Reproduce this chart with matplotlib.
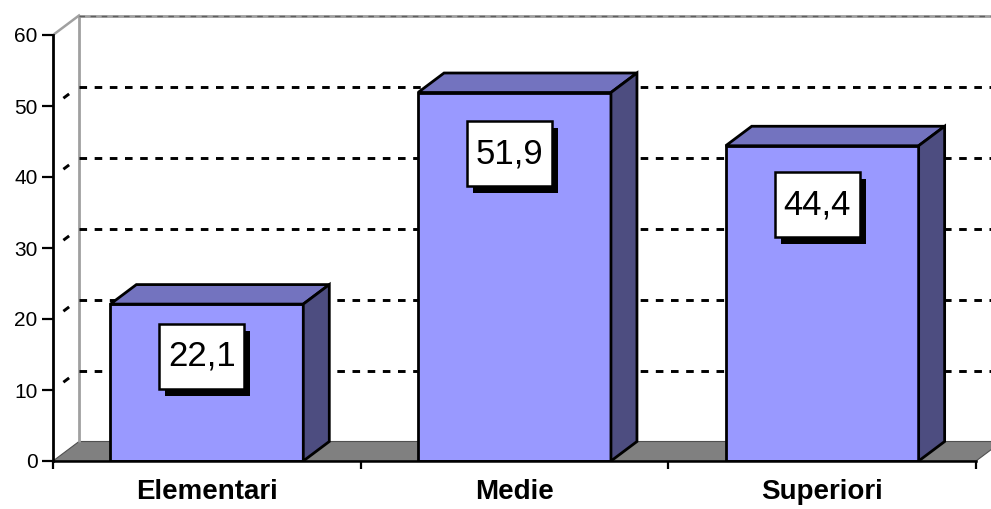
import matplotlib
matplotlib.use("Agg")
import matplotlib.pyplot as plt
from matplotlib.patches import Polygon, Rectangle
from matplotlib.transforms import Affine2D, ScaledTranslation

# Data
categories = ["Elementari", "Medie", "Superiori"]
values = [22.1, 51.9, 44.4]
value_labels = ["22,1", "51,9", "44,4"]
y_ticks = [0, 10, 20, 30, 40, 50, 60]

# Styling
FRONT = "#9999FF"
TOP = "#7373BF"
SIDE = "#4D4D80"
FLOOR = "#808080"
WALL = "#A0A0A0"
FONT = "Liberation Sans"

plt.rcParams["font.family"] = [FONT, "DejaVu Sans"]

fig = plt.figure(figsize=(9.91, 5.09), dpi=100)
W, H = 991, 509
ax = fig.add_axes([53 / W, 48 / H, (W - 53) / W, (H - 48) / H])

px_per_x = 307.67
px_per_y = 7.1
ax.set_xlim(0, (W - 53) / px_per_x)
ax.set_ylim(0, (H - 48) / px_per_y)

# oblique depth offset of the 3-D box (data units)
dx = 26 / px_per_x
dy = 19.5 / px_per_y
n = len(categories)
ymax = y_ticks[-1]

# floor
ax.add_patch(Polygon([(0, 0), (n, 0), (n + dx, dy), (dx, dy)], closed=True,
                     facecolor=FLOOR, edgecolor="#505050", lw=0.8, zorder=1))

# walls: left edge of back wall, its top edge, side wall top edge
ax.plot([dx, dx], [dy, ymax + dy], color=WALL, lw=2.0, zorder=1.5,
        solid_capstyle="butt")
ax.plot([dx, n + 1], [ymax + dy, ymax + dy], color=WALL, lw=2.0, zorder=1.5)
ax.plot([dx, n + 1], [ymax + dy, ymax + dy], color="#606060", lw=1.0,
        dashes=(4, 4), zorder=1.6)
ax.plot([0, dx], [ymax, ymax + dy], color=WALL, lw=1.8, zorder=1.5)

# gridlines on the back wall and the side wall
for v in y_ticks[1:-1]:
    ax.plot([dx, n + 1], [v + dy, v + dy], color="black", lw=2.1,
            dashes=(2.6, 2.6), dash_capstyle="butt", zorder=2)
    ax.plot([0.40 * dx, 0.62 * dx], [v + 0.40 * dy, v + 0.62 * dy],
            color="black", lw=2.1, solid_capstyle="butt", zorder=2)

# bars
bar_w = 0.627
edge_kw = dict(edgecolor="black", lw=2.0, joinstyle="miter", zorder=3)
for i, v in enumerate(values):
    x0 = i + 0.5 - bar_w / 2
    x1 = i + 0.5 + bar_w / 2
    ax.add_patch(Polygon([(x0, 0), (x1, 0), (x1, v), (x0, v)],
                         facecolor=FRONT, **edge_kw))
    ax.add_patch(Polygon([(x0, v), (x1, v), (x1 + dx, v + dy), (x0 + dx, v + dy)],
                         facecolor=TOP, **edge_kw))
    ax.add_patch(Polygon([(x1, 0), (x1 + dx, dy), (x1 + dx, v + dy), (x1, v)],
                         facecolor=SIDE, **edge_kw))

# value labels: white box with a drop shadow, sized in pixels
box_w, box_h = 85, 65
shadow_dx, shadow_dy = 6, -7
for i, (v, lab) in enumerate(zip(values, value_labels)):
    lx = i + 0.5 - 0.016
    ly = 0.957 * v - 6.4
    anchor = ScaledTranslation(lx, ly, ax.transData)
    shadow_tr = Affine2D().translate(-box_w / 2 + shadow_dx,
                                     -box_h / 2 + shadow_dy) + anchor
    box_tr = Affine2D().translate(-box_w / 2, -box_h / 2) + anchor
    ax.add_patch(Rectangle((0, 0), box_w, box_h, transform=shadow_tr,
                           facecolor="black", edgecolor="black", lw=0,
                           zorder=5))
    ax.add_patch(Rectangle((0, 0), box_w, box_h, transform=box_tr,
                           facecolor="white", edgecolor="black", lw=1.8,
                           zorder=5.5))
    ax.text(lx, ly, lab, ha="center", va="center", fontsize=25,
            color="black", zorder=6)

# axes
for s in ("top", "right"):
    ax.spines[s].set_visible(False)
ax.spines["left"].set_bounds(0, ymax)
ax.spines["bottom"].set_bounds(0, n)
ax.spines["left"].set_linewidth(2.0)
ax.spines["bottom"].set_linewidth(1.8)
ax.spines["left"].set_zorder(7)
ax.spines["bottom"].set_zorder(7)

ax.set_yticks(y_ticks)
ax.set_yticklabels([str(t) for t in y_ticks])
ax.tick_params(axis="y", length=8, width=1.6, pad=3.0, labelsize=15,
               direction="out")

ax.set_xticks(range(n + 1))
ax.set_xticklabels([""] * (n + 1))
ax.tick_params(axis="x", which="major", length=6, width=1.6, direction="out")
ax.set_xticks([i + 0.5 for i in range(n)], minor=True)
ax.set_xticklabels(categories, minor=True, fontsize=20, fontweight="bold")
ax.tick_params(axis="x", which="minor", length=0, pad=13)

ax.patch.set_visible(False)
fig.savefig("out.png", dpi=100)
